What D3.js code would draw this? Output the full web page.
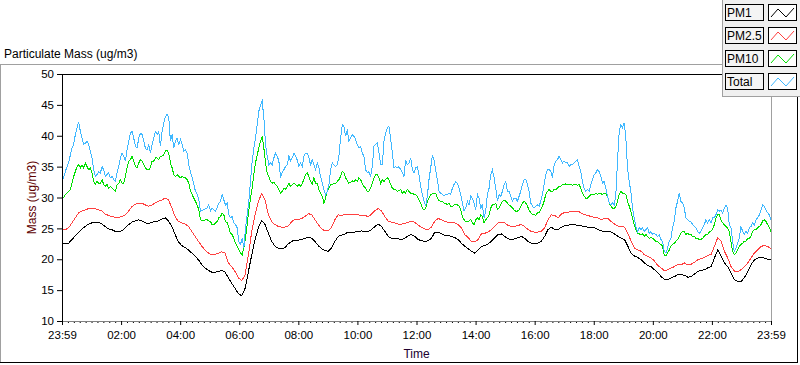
<!DOCTYPE html>
<html><head><meta charset="utf-8">
<script src="https://cdn.jsdelivr.net/npm/d3@7"></script>
<style>
body{margin:0;background:#fff}
svg{display:block}
text{font-family:"Liberation Sans",Arial,sans-serif}
</style>
</head><body>
<svg id="chart" width="800" height="365"></svg>
<script>
const title = "Particulate Mass (ug/m3)";
const yLabel = "Mass (ug/m3)";
const xLabel = "Time";
const seriesNames = ["PM1", "PM2.5", "PM10", "Total"];
const seriesColors = ["#000000", "#ff4040", "#00e000", "#40b8ff"];
const xTickValues = [0,120,240,360,480,600,720,840,960,1080,1200,1320,1440];
const xTickLabels = ["23:59","02:00","04:00","06:00","08:00","10:00","12:00","14:00","16:00","18:00","20:00","22:00","23:59"];
const yTickValues = [10,15,20,25,30,35,40,45,50];

// PM1 (ug/m3), evenly sampled across the day
const pm1 = [22.5,22.5,22.6,23.2,23.8,24.4,24.9,25.3,25.7,25.9,26.0,26.0,25.7,25.3,24.9,24.8,24.5,24.5,24.6,25.1,25.6,26.0,26.2,26.4,26.2,25.9,25.8,26.0,26.1,26.2,26.5,26.7,26.2,25.3,24.0,22.8,22.2,21.9,21.5,21.0,20.5,19.9,
19.1,18.6,18.2,17.9,17.9,18.0,18.2,17.9,17.0,16.1,15.3,14.4,14.1,15.3,18.0,20.7,23.2,25.1,26.3,25.6,24.2,22.9,22.1,21.8,21.7,21.9,22.5,22.9,23.1,23.1,23.2,23.4,23.6,23.4,22.9,22.2,21.7,21.4,21.3,21.8,22.9,23.7,
23.9,24.1,24.4,24.4,24.4,24.5,24.6,24.5,24.5,24.8,25.3,25.7,25.3,24.5,23.7,23.4,23.4,23.3,23.2,23.4,23.8,24.0,23.7,23.2,23.0,22.9,23.0,23.4,24.4,24.4,24.1,23.9,23.9,23.7,23.5,23.2,22.6,22.1,21.7,21.3,21.0,21.5,
22.1,22.2,22.5,22.9,23.5,24.0,24.1,23.7,23.3,23.2,23.3,23.5,23.7,23.4,22.9,22.6,22.5,22.6,22.9,23.7,24.8,25.2,24.8,24.8,25.2,25.4,25.5,25.6,25.6,25.5,25.4,25.3,25.2,25.2,25.1,24.8,24.6,24.5,24.5,24.4,24.1,23.7,
23.4,23.2,22.1,21.0,20.5,20.3,19.9,19.4,19.0,18.8,18.3,17.8,17.2,16.7,16.7,17.0,17.2,17.5,17.5,17.4,17.1,17.2,17.6,18.0,18.2,18.3,18.6,18.8,20.2,21.5,20.5,19.4,18.8,17.8,16.7,16.4,16.4,17.0,18.0,19.1,19.9,20.2,20.3,20.2,20.0,19.9];

// PM2.5 (ug/m3)
const pm25 = [24.8,24.8,25.1,25.9,26.7,27.5,27.8,28.0,28.2,28.2,28.2,28.0,27.8,27.3,27.1,26.9,26.8,26.8,26.9,27.2,27.8,28.5,28.9,29.1,29.1,28.8,28.6,28.8,29.1,29.4,29.6,29.9,29.6,28.3,26.9,26.1,25.9,25.7,25.3,24.5,23.7,22.9,
22.1,21.5,21.0,20.7,20.8,21.0,21.2,21.0,19.4,18.8,18.0,17.0,16.5,17.5,20.7,24.5,27.2,29.4,30.6,29.6,27.2,26.1,25.6,25.3,25.2,25.2,25.4,26.1,26.5,26.4,26.6,26.9,27.4,27.2,26.4,25.6,24.9,24.6,24.6,25.2,26.4,27.2,
27.1,27.3,27.3,27.2,27.2,27.2,27.1,27.1,26.9,27.3,27.9,28.2,27.8,26.9,26.2,26.0,25.9,25.7,25.7,25.8,26.0,26.1,26.0,25.5,25.2,24.9,24.8,25.2,26.2,26.6,26.4,26.1,26.0,26.0,25.9,25.6,25.1,24.0,23.5,22.9,22.8,23.2,
24.1,24.2,24.4,24.8,25.3,25.9,26.0,25.9,25.5,25.3,25.3,25.5,25.6,25.3,24.8,24.5,24.4,24.4,24.5,25.1,26.4,27.2,27.1,26.7,27.3,27.6,27.6,27.8,27.8,27.8,27.5,27.2,27.1,26.9,26.8,26.7,26.4,26.6,26.6,26.1,25.7,25.4,
25.3,25.2,24.2,22.9,21.8,21.5,21.3,20.7,20.5,20.2,19.7,19.0,18.6,18.1,18.3,18.6,18.8,19.2,19.1,19.4,19.1,19.2,19.5,19.9,20.1,20.3,20.6,20.8,22.1,23.5,22.9,21.3,20.2,18.8,18.1,18.0,18.3,18.8,19.4,20.2,21.0,21.5,22.1,22.2,22.1,21.7];

// PM10 (ug/m3)
const pm10 = [29.8,30.0,30.5,30.7,31.0,31.3,32.3,33.4,34.2,35.0,35.3,34.8,35.3,34.8,35.6,35.0,34.5,34.8,34.0,32.6,32.1,32.6,32.3,32.3,32.9,32.1,31.8,32.1,31.5,31.8,31.5,31.3,31.0,32.1,32.3,32.9,32.3,32.3,33.4,34.8,35.9,36.1,36.7,35.9,35.0,34.8,35.6,36.1,35.9,35.3,34.8,34.5,34.5,34.8,35.9,35.9,36.4,36.4,36.1,36.7,36.7,36.9,37.5,37.7,37.2,35.6,34.8,33.7,33.4,33.7,33.4,33.2,33.4,33.2,33.2,32.9,32.3,31.0,30.5,29.9,29.4,28.8,28.0,
26.4,26.3,26.2,26.4,26.4,26.2,26.1,25.6,25.6,25.9,26.1,26.7,26.9,27.5,27.2,26.1,25.9,25.1,24.2,24.0,23.4,22.6,22.1,21.5,21.0,20.7,21.8,23.4,25.6,28.0,29.9,31.5,33.7,35.6,36.9,38.0,39.1,39.9,38.0,35.6,34.0,33.4,32.6,32.3,32.5,32.1,31.8,31.3,30.7,31.0,31.5,31.3,31.8,32.3,31.8,32.1,32.3,32.1,31.8,32.1,31.8,32.3,32.9,33.7,34.0,33.4,32.6,32.1,33.2,32.3,32.3,31.3,30.7,30.2,29.1,29.9,31.0,31.5,32.1,32.1,32.3,32.3,32.6,32.9,
33.4,34.2,34.0,33.2,32.7,32.3,32.5,32.7,32.5,32.9,32.6,33.2,32.9,32.3,31.8,31.5,31.0,31.0,31.5,32.3,33.2,33.7,33.7,33.2,32.3,32.9,32.6,32.9,33.2,32.9,32.1,31.5,31.3,31.3,31.0,31.1,31.3,30.7,31.0,30.7,31.3,31.0,30.7,30.7,30.5,30.5,30.2,29.6,29.1,28.3,28.0,28.3,29.4,29.9,30.5,30.6,30.7,30.7,29.9,29.5,29.4,29.4,29.1,29.1,28.8,29.1,28.6,28.5,28.8,28.9,28.8,28.6,28.0,26.9,26.4,26.1,26.1,26.2,26.4,25.9,25.6,26.4,26.7,26.4,
27.2,26.9,25.9,26.4,26.7,27.2,28.3,28.8,28.8,29.1,28.0,28.3,28.8,29.4,29.6,29.4,29.1,28.8,28.6,28.3,28.0,27.8,27.8,28.0,28.6,29.1,29.4,29.1,28.6,28.0,27.5,27.2,27.2,27.1,27.5,27.5,28.0,28.6,29.4,30.5,31.0,31.3,31.0,31.0,31.3,31.3,31.5,31.8,31.8,32.1,32.1,32.2,32.1,32.2,32.1,32.0,32.1,32.1,32.0,32.1,31.5,30.7,30.2,29.9,29.9,30.2,30.5,30.5,30.5,30.7,30.5,30.7,30.6,30.5,30.7,30.6,30.2,29.1,28.6,28.3,28.2,28.6,29.4,30.5,
31.0,30.7,30.7,30.5,29.4,28.6,27.8,26.7,25.6,24.8,24.2,24.1,24.0,24.1,23.7,24.0,23.7,23.4,23.5,23.4,23.2,22.9,22.9,22.6,22.4,22.1,20.7,20.5,21.0,21.5,22.1,22.4,22.6,22.9,23.2,23.7,24.2,24.5,24.5,24.0,24.2,24.0,24.0,23.7,23.7,23.4,23.4,23.2,23.2,23.4,23.7,24.0,24.0,24.4,24.6,24.8,25.6,26.7,27.2,27.2,26.4,25.9,25.6,25.3,25.1,24.5,22.9,21.3,20.7,21.0,21.5,22.1,22.4,22.6,22.9,22.9,23.4,23.4,23.7,24.5,24.8,24.8,25.1,25.3,25.6,26.2,26.4,26.1,25.6,25.1,24.5];

// Total (ug/m3)
const total = [32.6,33.2,34.2,35.0,35.6,36.9,38.0,38.6,40.2,41.3,42.2,40.7,39.6,38.6,38.8,39.1,38.6,37.5,36.4,34.5,33.4,33.7,34.2,34.0,35.0,34.5,33.4,33.7,34.0,33.2,33.4,32.9,32.6,34.0,35.0,36.4,37.2,36.7,35.9,37.7,39.1,40.4,40.7,39.6,38.3,38.0,39.6,40.4,40.2,39.1,38.0,37.7,38.6,37.2,38.6,39.6,40.7,40.2,40.7,38.3,40.7,42.1,43.1,43.5,42.9,39.1,40.2,38.0,39.1,39.6,38.6,39.4,38.6,37.5,37.7,37.2,35.3,34.2,33.2,32.1,31.0,30.5,29.6,
27.8,27.9,28.0,28.2,28.3,28.8,27.8,28.3,28.0,27.8,28.3,29.1,29.4,30.5,29.6,28.8,29.1,27.2,26.7,26.9,25.9,25.6,25.1,22.9,22.4,23.4,21.8,25.1,27.2,29.4,32.6,35.9,38.0,39.6,41.8,44.0,45.0,45.6,42.9,38.6,36.7,35.3,35.6,35.3,36.4,37.2,36.7,35.9,33.4,34.0,34.5,35.0,35.3,36.7,35.9,36.4,37.2,36.7,36.1,35.0,35.6,35.0,36.7,37.2,37.2,36.4,35.3,36.1,35.3,34.5,35.6,34.8,33.4,32.3,31.3,30.5,31.0,32.1,34.5,35.6,35.3,35.0,35.3,36.7,
39.6,41.8,41.5,39.9,41.0,39.1,39.6,40.2,39.9,39.4,38.6,38.0,38.3,37.2,36.7,34.5,34.0,34.2,33.4,35.0,38.3,38.6,38.8,37.2,35.3,35.3,39.1,40.4,41.3,41.5,39.6,37.2,34.8,35.0,34.8,35.0,34.5,34.0,33.4,36.1,35.3,35.6,36.4,34.5,34.0,34.8,35.0,33.7,31.8,30.5,29.4,28.6,30.2,32.9,34.8,36.7,36.1,34.5,32.9,31.0,30.7,30.5,30.2,30.5,30.5,30.7,30.5,31.5,32.1,32.6,32.3,31.5,30.5,29.1,27.8,28.3,29.4,28.8,30.2,29.9,29.1,28.0,30.5,29.9,
28.3,28.8,26.7,27.8,30.5,31.5,33.7,34.5,33.2,31.5,29.4,30.5,30.2,31.0,32.1,32.6,31.0,31.0,30.2,29.4,29.9,29.9,29.4,30.2,31.0,32.1,32.9,32.9,32.1,31.0,29.1,28.6,28.3,28.6,28.8,28.6,29.4,30.5,32.1,33.7,34.5,34.5,34.2,33.2,35.3,35.9,36.1,36.7,36.1,35.6,35.9,35.6,35.6,35.0,35.3,35.3,35.6,35.9,36.1,35.0,34.2,32.6,31.5,31.0,31.3,31.0,32.1,32.9,33.7,34.0,34.5,34.2,33.4,32.3,32.6,31.5,30.2,29.1,28.8,29.1,28.8,30.5,35.9,40.7,
41.8,41.3,42.1,39.6,34.8,32.5,31.0,28.3,26.7,25.3,24.5,25.1,24.8,25.1,24.5,24.8,25.1,24.2,24.5,24.0,24.2,24.0,23.7,24.0,23.2,22.9,21.3,21.0,21.8,22.9,23.4,25.1,26.1,28.3,29.4,30.7,29.4,29.1,28.3,26.7,26.4,26.1,26.1,25.6,25.3,25.1,24.5,24.2,24.5,25.1,25.6,26.4,25.9,26.4,25.9,26.7,26.7,27.2,28.0,27.8,28.0,27.5,28.3,28.8,28.3,25.6,25.1,22.9,21.3,21.8,22.6,23.4,25.3,24.5,24.0,24.5,24.2,25.1,25.3,25.9,25.6,26.4,26.7,27.2,28.0,28.8,28.6,28.0,27.5,27.2,26.4];

const seriesData = [pm1, pm25, pm10, total];

const svg = d3.select("#chart");
const W = 800, H = 365;
const plot = {left: 62, right: 771, top: 74, bottom: 321};

// outer frame
svg.append("rect").attr("x",0).attr("y",0).attr("width",W).attr("height",H).attr("fill","#ffffff");
svg.append("line").attr("x1",0).attr("x2",722).attr("y1",64.5).attr("y2",64.5).attr("stroke","#a0a0a0");
svg.append("line").attr("x1",0.5).attr("x2",0.5).attr("y1",64).attr("y2",363).attr("stroke","#a0a0a0");
svg.append("line").attr("x1",0).attr("x2",798).attr("y1",362.5).attr("y2",362.5).attr("stroke","#000");
svg.append("line").attr("x1",797.5).attr("x2",797.5).attr("y1",96).attr("y2",363).attr("stroke","#000");

svg.append("text").attr("x",4).attr("y",58).attr("font-size",12).attr("fill","#000").text(title);

const x = d3.scaleLinear().domain([0,1440]).range([plot.left, plot.right]);
const y = d3.scaleLinear().domain([10,50]).range([plot.bottom, plot.top]);

// plot border
svg.append("line").attr("x1",plot.left).attr("x2",plot.right+1).attr("y1",plot.top+0.5).attr("y2",plot.top+0.5).attr("stroke","#000");
svg.append("line").attr("x1",plot.right+0.5).attr("x2",plot.right+0.5).attr("y1",plot.top).attr("y2",plot.bottom).attr("stroke","#a0a0a0");

svg.append("clipPath").attr("id","clip").append("rect")
  .attr("x",plot.left).attr("y",plot.top).attr("width",plot.right-plot.left+1).attr("height",plot.bottom-plot.top);

const line = d3.line().x(d=>x(d[0])).y(d=>y(d[1]));
const g = svg.append("g").attr("clip-path","url(#clip)");
seriesData.forEach((arr,k)=>{
  const n = arr.length;
  const pts = arr.map((v,i)=>[i*1440/(n-1), v]);
  g.append("path").datum(pts).attr("d",line).attr("fill","none")
    .attr("stroke",seriesColors[k]).attr("stroke-width",1).attr("shape-rendering","crispEdges");
});

// minor x ticks
const minorVals = d3.range(0,1441,12).filter(v=>v%120!==0);
svg.append("g").attr("transform",`translate(0,${plot.bottom})`)
  .call(d3.axisBottom(x).tickValues(minorVals).tickSize(2).tickFormat(""))
  .call(s=>{s.select(".domain").remove(); s.selectAll("line").attr("stroke","#000");});
// major x ticks
const xa = svg.append("g").attr("transform",`translate(0,${plot.bottom})`)
  .call(d3.axisBottom(x).tickValues(xTickValues).tickSize(4).tickSizeOuter(0).tickPadding(6)
    .tickFormat((d,i)=>xTickLabels[i]));
xa.select(".domain").attr("stroke","#808080");
xa.selectAll("line").attr("stroke","#000");
xa.selectAll("text").attr("font-size",11.5).attr("fill","#000").attr("font-family","Liberation Sans, Arial, sans-serif");

// y axis
const ya = svg.append("g").attr("transform",`translate(${plot.left},0)`)
  .call(d3.axisLeft(y).tickValues(yTickValues).tickSize(5).tickSizeOuter(0).tickPadding(3));
ya.select(".domain").attr("stroke","#000");
ya.selectAll("line").attr("stroke","#000");
ya.selectAll("text").attr("font-size",11.5).attr("fill","#000").attr("font-family","Liberation Sans, Arial, sans-serif");

svg.append("text").attr("transform",`translate(36,${(plot.top+plot.bottom)/2}) rotate(-90)`)
  .attr("text-anchor","middle").attr("font-size",12).attr("fill","#600000").text(yLabel);
svg.append("text").attr("x",(plot.left+plot.right)/2).attr("y",358)
  .attr("text-anchor","middle").attr("font-size",12).attr("fill","#200030").text(xLabel);

// legend
const lg = svg.append("g");
lg.append("rect").attr("x",722).attr("y",0).attr("width",78).attr("height",96).attr("fill","#f0f0f0");
lg.append("line").attr("x1",722.5).attr("x2",722.5).attr("y1",0).attr("y2",96).attr("stroke","#a0a0a0");
lg.append("line").attr("x1",722).attr("x2",800).attr("y1",96.5).attr("y2",96.5).attr("stroke","#a0a0a0");
seriesNames.forEach((name,i)=>{
  const ry = 4 + i*23;
  lg.append("rect").attr("x",725.5).attr("y",ry+0.5).attr("width",38).attr("height",16)
    .attr("fill","#f4f4f4").attr("stroke","#000");
  lg.append("text").attr("x",727).attr("y",ry+13).attr("font-size",12).attr("fill","#000").text(name);
  lg.append("rect").attr("x",768.5).attr("y",ry+0.5).attr("width",28).attr("height",16)
    .attr("fill","#ffffff").attr("stroke","#000");
  const zz = [[771,ry+13],[778,ry+5],[786,ry+13],[794,ry+4]];
  lg.append("path").attr("d",d3.line()(zz)).attr("fill","none").attr("stroke",seriesColors[i]).attr("stroke-width",1);
});
</script>
</body></html>
